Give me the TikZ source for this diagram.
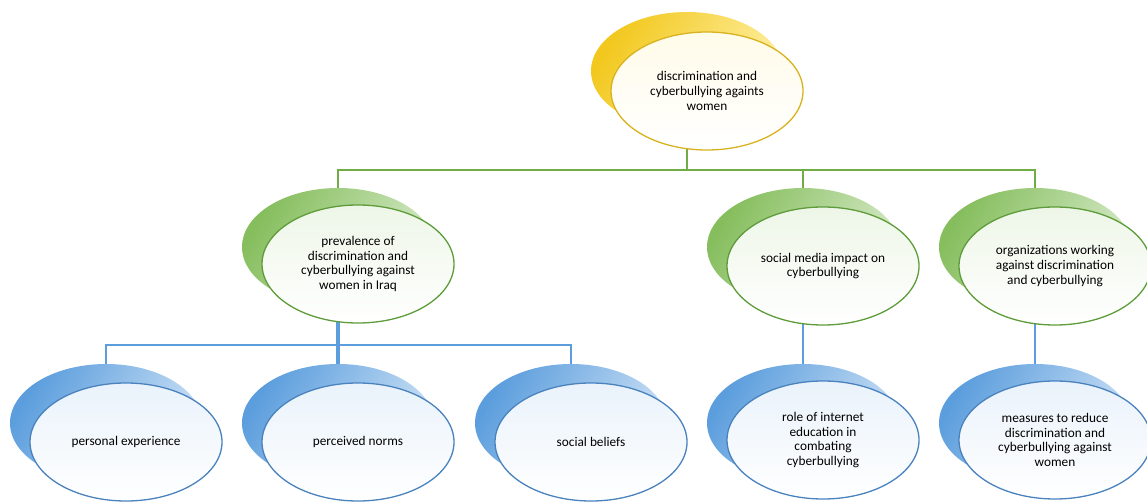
\documentclass[tikz,border=0pt]{standalone}
\usepackage{fontspec}
\setmainfont{Carlito}
\usetikzlibrary{shapes.geometric}
\definecolor{goldfill}{HTML}{F2C81E}
\definecolor{goldlite}{HTML}{FFF1A8}
\definecolor{goldline}{HTML}{D9B21F}
\definecolor{leaffill}{HTML}{86BE5E}
\definecolor{leaflite}{HTML}{D8EBCB}
\definecolor{leafline}{HTML}{5E9C3A}
\definecolor{leafwire}{HTML}{70AD47}
\definecolor{skyfill}{HTML}{5C9EDD}
\definecolor{skylite}{HTML}{CFE3F6}
\definecolor{skyline}{HTML}{4A82BE}
\begin{document}
\begin{tikzpicture}[x=1pt,y=-1pt,
    blob/.style={ellipse, minimum width=192pt, minimum height=118pt, inner sep=0pt},
    face/.style={blob, draw, line width=1.3pt, align=center,
      font=\fontsize{13.3}{14.6}\selectfont},
    goldback/.style={blob, left color=goldfill, right color=goldlite, shading angle=60},
    leafback/.style={blob, left color=leaffill, right color=leaflite, shading angle=60},
    skyback/.style={blob, left color=skyfill, right color=skylite, shading angle=60},
    goldface/.style={face, draw=goldline, top color=goldlite!25, bottom color=white},
    leafface/.style={face, draw=leafline, top color=leaflite!45, bottom color=white},
    skyface/.style={face, draw=skyline, top color=skylite!45, bottom color=white},
    gline/.style={draw=leafwire, line width=2.4pt},
    bline/.style={draw=skyfill, line width=2.4pt}]
  \useasboundingbox (0,0) rectangle (1147,502);
  \clip (0,0) rectangle (1147,502);

  % back ellipses
  \node[goldback] (top-b) at (687,71) {};
  \node[leafback] (prev-b) at (338,247) {};
  \node[leafback] (media-b) at (803,247) {};
  \node[leafback] (org-b) at (1035,247) {};
  \node[skyback] (pers-b) at (106,423) {};
  \node[skyback] (norms-b) at (338,423) {};
  \node[skyback] (beliefs-b) at (571,423) {};
  \node[skyback] (role-b) at (803,423) {};
  \node[skyback] (measures-b) at (1035,423) {};

  % connectors
  \begin{scope}[gline]
    \draw (top-b.south) -- ++(0,40) -| (prev-b.north);
    \draw (top-b.south) -- ++(0,40) -| (media-b.north);
    \draw (top-b.south) -- ++(0,40) -| (org-b.north);
  \end{scope}
  \begin{scope}[bline]
    \draw (prev-b.south) -- ++(0,39) -| (pers-b.north);
    \draw (prev-b.south) -- ++(0,39) -| (beliefs-b.north);
    \draw[line width=4pt] (prev-b.south) -- (norms-b.north);
    \draw (media-b.south) -- (role-b.north);
    \draw (org-b.south) -- (measures-b.north);
  \end{scope}

  % front ellipses
  \node[goldface] (top) at (707,91) {discrimination and\\cyberbullying againts\\women};
  \node[leafface] (prev) at (358,264) {prevalence of\\discrimination and\\cyberbullying against\\women in Iraq};
  \node[leafface] (media) at (823,266) {social media impact on\\cyberbullying};
  \node[leafface] (org) at (1055,266) {organizations working\\against discrimination\\and cyberbullying};
  \node[skyface] (pers) at (126,442) {personal experience};
  \node[skyface] (norms) at (358,442) {perceived norms};
  \node[skyface] (beliefs) at (591,442) {social beliefs};
  \node[skyface] (role) at (823,440) {role of internet\\education in\\combating\\cyberbullying};
  \node[skyface] (measures) at (1055,440) {measures to reduce\\discrimination and\\cyberbullying against\\women};
\end{tikzpicture}
\end{document}
